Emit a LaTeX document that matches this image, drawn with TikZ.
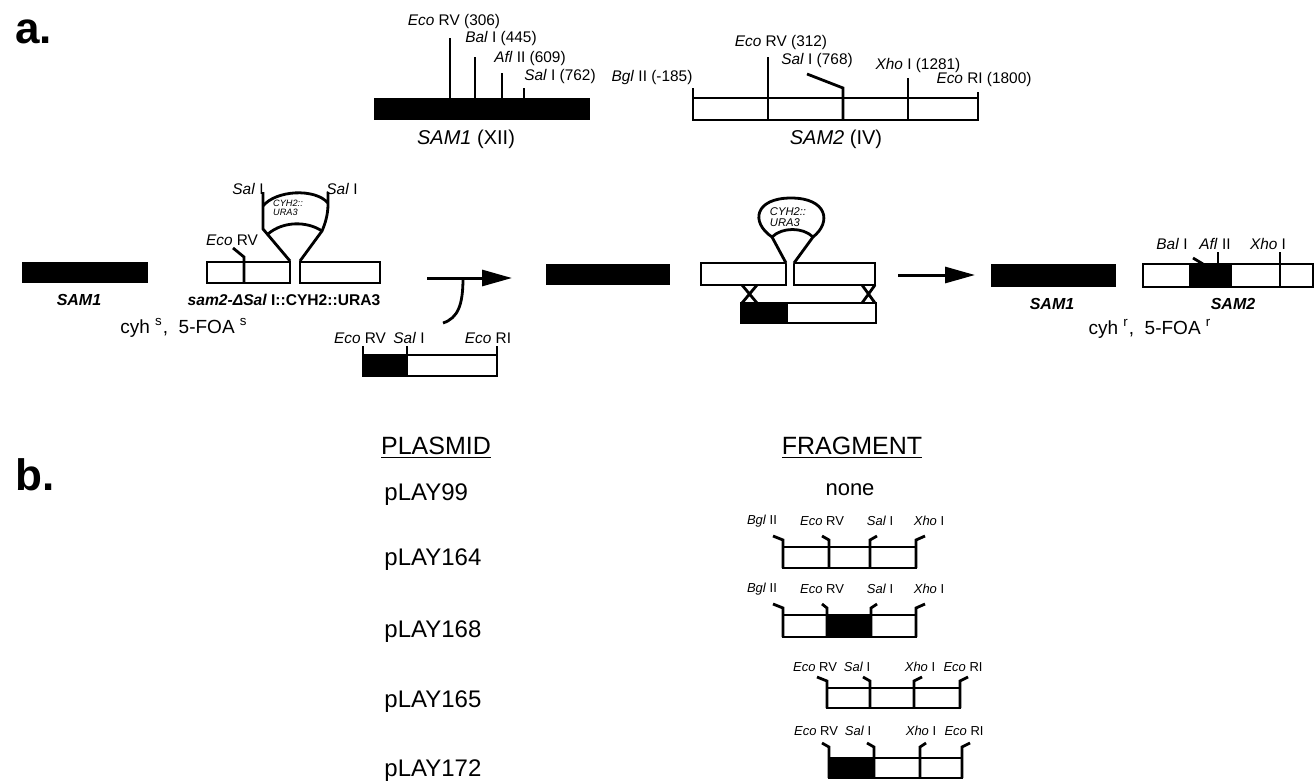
\documentclass[tikz,border=0pt]{standalone}
\usepackage{fontspec}
\setmainfont{Liberation Sans}
\usetikzlibrary{arrows.meta}

\begin{document}
\begin{tikzpicture}[x=0.5pt,y=-0.5pt,line width=1.4pt,line join=miter,
  gene/.style={draw=black,fill=white,line width=1.4pt},
  lab/.style={inner sep=0pt,font=\fontsize{7.7}{8}\selectfont},
  flab/.style={inner sep=0pt,font=\fontsize{6.5}{7}\selectfont},
  glab/.style={inner sep=0pt,font=\fontsize{8}{9}\selectfont\bfseries\itshape},
  loopt/.style={inner sep=0pt,align=left,font=\fontsize{4.6}{4.8}\selectfont\itshape},
  plas/.style={inner sep=0pt,anchor=west,font=\fontsize{12}{14}\selectfont},
  big/.style={inner sep=0pt,anchor=base west,font=\fontsize{22}{24}\selectfont\bfseries},
  go/.style={-{Triangle[length=15pt,width=8pt]},line width=1.5pt}]
\useasboundingbox (0,0) rectangle (1315,782);
\node[big] (pa) at (14,43) {a.};
\node[big] (pb) at (14,490) {b.};
\fill (374,98) rectangle (590,120);
\draw (450,38) -- (450,98);
\draw (475,57) -- (475,98);
\draw (502,73) -- (502,98);
\draw (524,88) -- (524,98);
\node[lab] (ecoA) at (454,22) {\textit{Eco} RV (306)};
\node[lab] (balA) at (501,39) {\textit{Bal} I (445)};
\node[lab] (aflA) at (530,59) {\textit{Afl} II (609)};
\node[lab] (salA) at (560,77) {\textit{Sal} I (762)};
\node[inner sep=0pt,font=\fontsize{10}{12}\selectfont] (samA) at (466,139) {\textit{SAM1} (XII)};
\draw[gene] (693,98) rectangle (978,120);
\draw (693,88) -- (693,120);
\draw (768,57) -- (768,120);
\draw (807,74) -- (843,88) -- (843,120);
\draw (908,78) -- (908,120);
\draw (978,92) -- (978,120);
\node[lab] (bglB) at (652,78) {\textit{Bgl} II (-185)};
\node[lab] (ecoB) at (781,43) {\textit{Eco} RV (312)};
\node[lab] (salB) at (817,61) {\textit{Sal} I (768)};
\node[lab] (xhoB) at (918,66) {\textit{Xho} I (1281)};
\node[lab] (ecrB) at (984,80) {\textit{Eco} RI (1800)};
\node[inner sep=0pt,font=\fontsize{10}{12}\selectfont] (samB) at (836,139) {\textit{SAM2} (IV)};
\fill (22,262) rectangle (148,283);
\node[glab] (samC) at (79,300) {SAM1};
\draw[gene] (207,262) rectangle (290,283);
\draw (233,248) -- (244,257) -- (244,283);
\draw[gene] (300,262) rectangle (380,283);
\draw (263,192) -- (263,229) -- (290,261);
\draw (328,192) -- (328,204) .. controls (328,215) and (325,224) .. (322,231) -- (300,261);
\draw (263,206) .. controls (276,190) and (315,188) .. (328,203);
\draw (268,234) .. controls (283,221) and (307,221) .. (322,231);
\node[loopt] (cyhC) at (288,208) {CYH2::\\URA3};
\node[lab] (ecoC) at (232,240) {\textit{Eco} RV};
\node[lab] (salC) at (248,189) {\textit{Sal} I};
\node[lab] (salD) at (342,189) {\textit{Sal} I};
\node[glab,font=\fontsize{7.8}{9}\selectfont\bfseries\itshape] (samD) at (284,300) {sam2-ΔSal\upshape{} I::CYH2::URA3};
\node[inner sep=0pt,font=\fontsize{9.5}{11}\selectfont] (phC) at (184,328) {cyh \textsuperscript{s}, \ 5-FOA \textsuperscript{s}};
\draw[go] (427,278) -- (512,278);
\draw (463,278) .. controls (463,305) and (458,318) .. (443,323);
\fill (363,355) rectangle (407,376);
\draw (363,355) rectangle (497,376);
\draw (363,346) -- (363,376);
\draw (407,346) -- (407,376);
\draw (497,346) -- (497,376);
\node[lab] (ecoE) at (360,338) {\textit{Eco} RV};
\node[lab] (salE) at (409,338) {\textit{Sal} I};
\node[lab] (ecrE) at (488,338) {\textit{Eco} RI};
\fill (546,264) rectangle (670,285);
\draw[gene] (701,263) rectangle (786,285);
\draw[gene] (794,263) rectangle (875,285);
\draw[fill=white] (786,263) -- (772,237) .. controls (750,222) and (755,198) .. (791,198) .. controls (827,198) and (832,222) .. (813,237) -- (794,263);
\draw (772,237) .. controls (782,227) and (803,227) .. (813,237);
\node[loopt,font=\fontsize{5.6}{5.8}\selectfont\itshape] (cyhF) at (788,217) {CYH2::\\URA3};
\draw (742,285) -- (757,303) (757,285) -- (742,303);
\draw (862,285) -- (875,303) (875,285) -- (862,303);
\fill (741,303) rectangle (788,323);
\draw (741,303) rectangle (876,323);
\draw[go] (898,275) -- (975,275);
\fill (991,264) rectangle (1116,287);
\node[glab] (samG) at (1052,304) {SAM1};
\fill (1189,264) rectangle (1232,287);
\draw (1143,264) rectangle (1313,287);
\draw (1193,258) -- (1203,264);
\draw (1218,252) -- (1218,264);
\draw (1280,252) -- (1280,287);
\node[lab] (balG) at (1172,244) {\textit{Bal} I};
\node[lab] (aflG) at (1215,244) {\textit{Afl} II};
\node[lab] (xhoG) at (1268,244) {\textit{Xho} I};
\node[glab] (samH) at (1233,304) {SAM2};
\node[inner sep=0pt,font=\fontsize{9.5}{11}\selectfont] (phG) at (1150,329) {cyh \textsuperscript{r}, \ 5-FOA \textsuperscript{r}};
\node[inner sep=0pt,font=\fontsize{12.5}{14}\selectfont] (plasmid) at (436,448) {\underline{PLASMID}};
\node[inner sep=0pt,font=\fontsize{12.5}{14}\selectfont] (fragment) at (852,448) {\underline{FRAGMENT}};
\node[plas] (p99) at (383,495) {pLAY99};
\node[plas] (p164) at (383,560) {pLAY164};
\node[plas] (p168) at (383,632) {pLAY168};
\node[plas] (p165) at (383,702) {pLAY165};
\node[plas] (p172) at (383,771) {pLAY172};
\node[inner sep=0pt,font=\fontsize{11}{12}\selectfont] (none) at (850,490) {none};
\draw (783,547) rectangle (916,568);
\draw (773,536) -- (783,540) -- (783,568);
\draw (822,536) -- (829,540) -- (829,568);
\draw (877,536) -- (870,540) -- (870,568);
\draw (925,536) -- (916,540) -- (916,568);
\node[flab] (bgl1) at (762,521) {\textit{Bgl} II};
\node[flab] (eco1) at (822,521) {\textit{Eco} RV};
\node[flab] (sal1) at (880,521) {\textit{Sal} I};
\node[flab] (xho1) at (929,521) {\textit{Xho} I};
\fill (827,615) rectangle (871,637);
\draw (783,615) rectangle (916,637);
\draw (773,604) -- (783,608) -- (783,637);
\draw (822,604) -- (827,608) -- (827,637);
\draw (877,604) -- (871,608) -- (871,637);
\draw (925,604) -- (916,608) -- (916,637);
\node[flab] (bgl2) at (762,589) {\textit{Bgl} II};
\node[flab] (eco2) at (822,589) {\textit{Eco} RV};
\node[flab] (sal2) at (880,589) {\textit{Sal} I};
\node[flab] (xho2) at (929,589) {\textit{Xho} I};
\draw (827,688) rectangle (960,708);
\draw (817,677) -- (827,681) -- (827,708);
\draw (863,677) -- (870,681) -- (870,708);
\draw (922,677) -- (914,681) -- (914,708);
\draw (968,677) -- (960,681) -- (960,708);
\node[flab] (eco3) at (815,667) {\textit{Eco} RV};
\node[flab] (sal3) at (857,667) {\textit{Sal} I};
\node[flab] (xho3) at (920,667) {\textit{Xho} I};
\node[flab] (ecr3) at (963,667) {\textit{Eco} RI};
\fill (829,758) rectangle (874,778);
\draw (829,758) rectangle (962,778);
\draw (822,743) -- (829,747) -- (829,778);
\draw (867,743) -- (874,747) -- (874,778);
\draw (926,743) -- (920,747) -- (920,778);
\draw (970,743) -- (962,747) -- (962,778);
\node[flab] (eco4) at (816,731) {\textit{Eco} RV};
\node[flab] (sal4) at (858,731) {\textit{Sal} I};
\node[flab] (xho4) at (921,731) {\textit{Xho} I};
\node[flab] (ecr4) at (964,731) {\textit{Eco} RI};
\end{tikzpicture}
\end{document}
